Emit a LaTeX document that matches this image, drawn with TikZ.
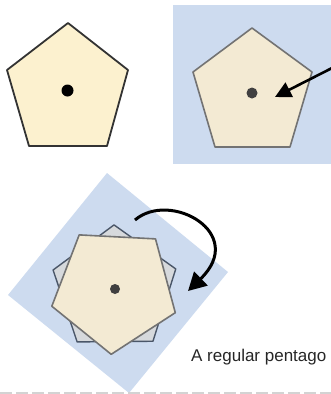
\documentclass[tikz,border=0pt]{standalone}
\usepackage{fontspec}
\usetikzlibrary{arrows.meta}
\newfontfamily\handfont{Liberation Sans}
\definecolor{bluebg}{HTML}{CDDBEF}
\definecolor{creamA}{HTML}{FCF1CF}
\definecolor{creamB}{HTML}{F3EAD3}
\definecolor{greyfill}{HTML}{D6D9DC}
\definecolor{greyedge}{HTML}{4A5668}
\definecolor{dashgrey}{HTML}{D3D3D3}
\tikzset{
  bluebox/.style={fill=bluebg, draw=none},
  pentA/.style={fill=creamA, draw=black!80, line width=1.8pt, line join=round},
  pentB/.style={fill=creamB, draw=black!55, line width=1.6pt, line join=round},
  pentGrey/.style={fill=greyfill, draw=greyedge, line width=1.4pt, line join=round},
  centredot/.style={circle, inner sep=0pt, minimum size=#1},
  bigarrow/.style={line width=3pt, -{Triangle[length=18pt,width=19pt]}},
  caption/.style={font=\handfont\fontsize{17}{19}\selectfont, text=black!85, inner sep=0pt, anchor=base west},
}
\begin{document}
\begin{tikzpicture}[x=1pt,y=-1pt]
\useasboundingbox (0,0) rectangle (331,394);
\clip (0,0) rectangle (331,394);
% top-left pentagon
\draw[pentA] (68,23) -- (128,70) -- (107,146) -- (29,146) -- (7,70) -- cycle;
\node[centredot=12pt, fill=black] (dotA) at (67.5,90.5) {};
% top-right blue square and pentagon
\fill[bluebox] (173,5) rectangle (340,164);
\draw[pentB] (252,28) -- (312,72) -- (290,147) -- (215,147) -- (193,72) -- cycle;
\node[centredot=11pt, fill=black!75] (dotB) at (252,93) {};
\coordinate (arrowstart) at (336,66);
\coordinate (arrowtip) at (275,97);
\draw[line width=2.6pt, -{Triangle[length=16pt,width=16pt]}] (arrowstart) -- (arrowtip);
% bottom rotated square
\fill[bluebox] (107,173) -- (228,272) -- (129,393) -- (8,295) -- cycle;
% grey pentagon behind, cream pentagon in front
\begin{scope}[shift={(114.6,289.4)}]
\draw[pentGrey] (-90.5:64.5) -- (-18.5:64.5) -- (53.5:64.5) -- (125.5:64.5) -- (197.5:64.5) -- cycle;
\draw[pentB] (93:65) -- (165:65) -- (237:65) -- (309:65) -- (21:65) -- cycle;
\end{scope}
\node[centredot=10pt, fill=black!75] (dotC) at (115,289) {};
% curved arrow
\coordinate (curvestart) at (135,220);
\coordinate (curvetip) at (188,291);
\draw[bigarrow] (curvestart) .. controls (170,190) and (248,233) .. (curvetip);
% caption (as printed, cut at the right edge of the reference)
\node[caption] (cap) at (191,361) {A regular pentago};
% dashed rule at bottom
\coordinate (ruleL) at (0,393);
\coordinate (ruleR) at (331,393);
\draw[dashgrey, line width=2.5pt, dash pattern=on 12pt off 4pt] (ruleL) -- (ruleR);
\end{tikzpicture}
\end{document}
